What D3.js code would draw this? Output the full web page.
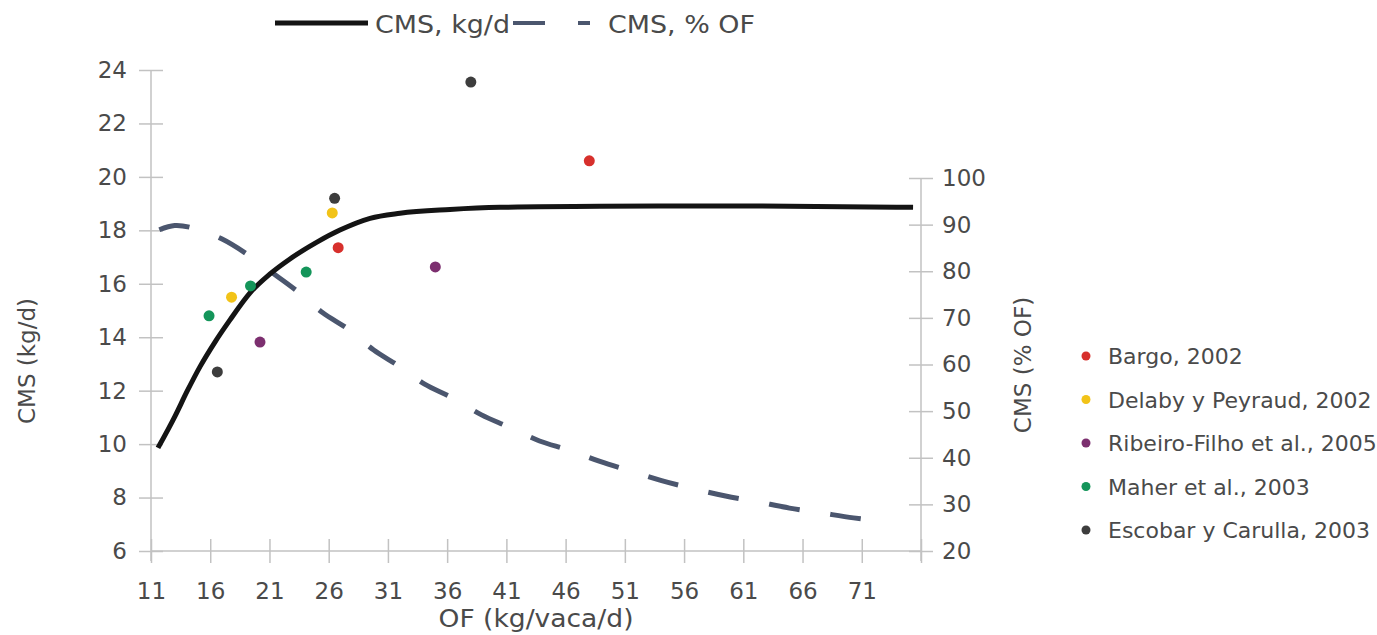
<!DOCTYPE html>
<html>
<head>
<meta charset="utf-8">
<script src="https://cdn.jsdelivr.net/npm/d3@7/dist/d3.min.js"></script>
<style>
  html, body { margin: 0; padding: 0; background: #fff; }
  svg { display: block; font-family: "DejaVu Sans", sans-serif; }
</style>
</head>
<body>
<svg id="chart" width="1377" height="635"></svg>
<script>
// ---- data ----
const xTicks = [11, 16, 21, 26, 31, 36, 41, 46, 51, 56, 61, 66, 71, 76];
const yLeftTicks = [6, 8, 10, 12, 14, 16, 18, 20, 22, 24];
const yRightTicks = [20, 30, 40, 50, 60, 70, 80, 90, 100];

// CMS, kg/d (solid line, left axis)
const cmsKgX = [11.59, 13.03, 14.04, 15.14, 16.40, 17.67, 19.36, 21.05, 22.73, 25.01, 26.95, 29.49, 32.02, 36.24, 40.46, 48.90, 61.57, 75.33];
const cmsKgY = [9.86, 11.05, 11.97, 12.90, 13.82, 14.65, 15.66, 16.37, 16.93, 17.56, 18.01, 18.45, 18.64, 18.78, 18.86, 18.90, 18.91, 18.86];

// CMS, % OF (dashed line, right axis)
const cmsPctX = [11.7, 13.0, 14.5, 17.0, 19.2, 21.5, 23.4, 25.5, 27.7, 29.8, 31.9, 34.1, 36.4, 38.9, 41.2, 43.8, 46.2, 48.9, 51.4, 54.1, 56.7, 59.5, 62.1, 64.9, 67.5, 70.3, 73.0];
const cmsPctY = [88.9, 89.8, 89.3, 86.9, 83.5, 79.2, 75.6, 71.1, 67.5, 63.1, 59.7, 55.8, 52.9, 49.2, 46.6, 43.6, 41.7, 39.2, 37.2, 35.1, 33.4, 31.8, 30.6, 29.2, 28.2, 27.1, 26.3];

// studies (scatter)
const studies = ["Bargo, 2002", "Delaby y Peyraud, 2002", "Ribeiro-Filho et al., 2005", "Maher et al., 2003", "Escobar y Carulla, 2003"];
const studyColors = ["#d7302c", "#f2c318", "#7c2f6f", "#14955a", "#3d3d3d"];
const bargoX = [26.8, 48.0];      const bargoY = [17.35, 20.6];
const delabyX = [17.8, 26.3];     const delabyY = [15.5, 18.65];
const ribeiroX = [20.2, 35.0];    const ribeiroY = [13.82, 16.63];
const maherX = [15.9, 19.4, 24.1]; const maherY = [14.8, 15.92, 16.44];
const escobarX = [16.6, 26.5, 38.0]; const escobarY = [12.7, 19.2, 23.55];
const studyX = [bargoX, delabyX, ribeiroX, maherX, escobarX];
const studyY = [bargoY, delabyY, ribeiroY, maherY, escobarY];

// ---- chart ----
const svg = d3.select("#chart");
const axisColor = "#c2c2c2";
const textColor = "#4a4a4a";
const tickFont = 23;

const x = d3.scaleLinear().domain([11, 76]).range([151, 921]);
const yL = d3.scaleLinear().domain([6, 24]).range([551, 70]);
const yR = d3.scaleLinear().domain([20, 100]).range([551, 178]);

function styleAxis(g) {
  g.select(".domain").remove();
  g.selectAll(".tick line").attr("stroke", axisColor).attr("stroke-width", 1.5);
  g.selectAll(".tick text").attr("fill", textColor).attr("font-size", tickFont)
    .attr("font-family", "DejaVu Sans, sans-serif");
}

// x axis
const gx = svg.append("g").attr("transform", `translate(0,${yL(6)})`)
  .call(d3.axisBottom(x).tickValues(xTicks).tickSize(12).tickPadding(20)
    .tickFormat(d => d === 76 ? "" : d));
styleAxis(gx);
gx.selectAll(".tick line").attr("y1", -12).attr("y2", 12);
svg.append("line").attr("x1", x(11)).attr("x2", x(76)).attr("y1", yL(6)).attr("y2", yL(6))
  .attr("stroke", axisColor).attr("stroke-width", 1.5);

// left axis
const gl = svg.append("g").attr("transform", `translate(${x(11)},0)`)
  .call(d3.axisLeft(yL).tickValues(yLeftTicks).tickSize(12).tickPadding(12));
styleAxis(gl);
gl.selectAll(".tick line").attr("x1", -12).attr("x2", 12);
svg.append("line").attr("x1", x(11)).attr("x2", x(11)).attr("y1", yL(24)).attr("y2", yL(6) + 10)
  .attr("stroke", axisColor).attr("stroke-width", 1.5);

// right axis
const gr = svg.append("g").attr("transform", `translate(${x(76)},0)`)
  .call(d3.axisRight(yR).tickValues(yRightTicks).tickSize(12).tickPadding(9));
styleAxis(gr);
gr.selectAll(".tick line").attr("x1", -12).attr("x2", 12);
svg.append("line").attr("x1", x(76)).attr("x2", x(76)).attr("y1", yR(100)).attr("y2", yR(20) + 10)
  .attr("stroke", axisColor).attr("stroke-width", 1.5);

// axis titles
svg.append("text").attr("x", 536).attr("y", 627)
  .attr("text-anchor", "middle").attr("fill", textColor).attr("font-size", 24)
  .attr("textLength", 195).attr("lengthAdjust", "spacingAndGlyphs")
  .text("OF (kg/vaca/d)");
svg.append("text").attr("transform", "translate(35,361) rotate(-90)")
  .attr("text-anchor", "middle").attr("fill", textColor).attr("font-size", 23)
  .text("CMS (kg/d)");
svg.append("text").attr("transform", "translate(1031,365) rotate(-90)")
  .attr("text-anchor", "middle").attr("fill", textColor).attr("font-size", 23)
  .text("CMS (% OF)");

// lines
const solidData = cmsKgX.map((v, i) => [v, cmsKgY[i]]);
const dashData = cmsPctX.map((v, i) => [v, cmsPctY[i]]);
const lineL = d3.line().x(d => x(d[0])).y(d => yL(d[1])).curve(d3.curveMonotoneX);
const lineR = d3.line().x(d => x(d[0])).y(d => yR(d[1])).curve(d3.curveCatmullRom.alpha(0.5));

svg.append("path").datum(dashData).attr("d", lineR).attr("fill", "none")
  .attr("stroke", "#4b566e").attr("stroke-width", 5).attr("stroke-dasharray", "31,31");
svg.append("path").datum(solidData).attr("d", lineL).attr("fill", "none")
  .attr("stroke", "#141414").attr("stroke-width", 5);

// scatter points
studies.forEach((s, i) => {
  svg.append("g").selectAll("circle")
    .data(studyX[i].map((v, j) => [v, studyY[i][j]]))
    .join("circle")
    .attr("cx", d => x(d[0])).attr("cy", d => yL(d[1])).attr("r", 5.5)
    .attr("fill", studyColors[i]);
});

// right legend
const legR = svg.append("g");
studies.forEach((s, i) => {
  const yy = 356 + i * 43.5;
  legR.append("circle").attr("cx", 1086).attr("cy", yy).attr("r", 4.5).attr("fill", studyColors[i]);
  legR.append("text").attr("x", 1108).attr("y", yy + 8).attr("fill", textColor)
    .attr("font-size", 22).text(s);
});

// top legend
svg.append("line").attr("x1", 275).attr("x2", 368).attr("y1", 23).attr("y2", 23)
  .attr("stroke", "#141414").attr("stroke-width", 5);
svg.append("text").attr("x", 375).attr("y", 33).attr("fill", textColor).attr("font-size", 25)
  .attr("textLength", 135).attr("lengthAdjust", "spacingAndGlyphs")
  .text("CMS, kg/d");
svg.append("line").attr("x1", 513).attr("x2", 545).attr("y1", 23).attr("y2", 23)
  .attr("stroke", "#4b566e").attr("stroke-width", 4);
svg.append("line").attr("x1", 578).attr("x2", 590).attr("y1", 23).attr("y2", 23)
  .attr("stroke", "#4b566e").attr("stroke-width", 4);
svg.append("text").attr("x", 608).attr("y", 33).attr("fill", textColor).attr("font-size", 25)
  .attr("textLength", 147).attr("lengthAdjust", "spacingAndGlyphs")
  .text("CMS, % OF");
</script>
</body>
</html>
